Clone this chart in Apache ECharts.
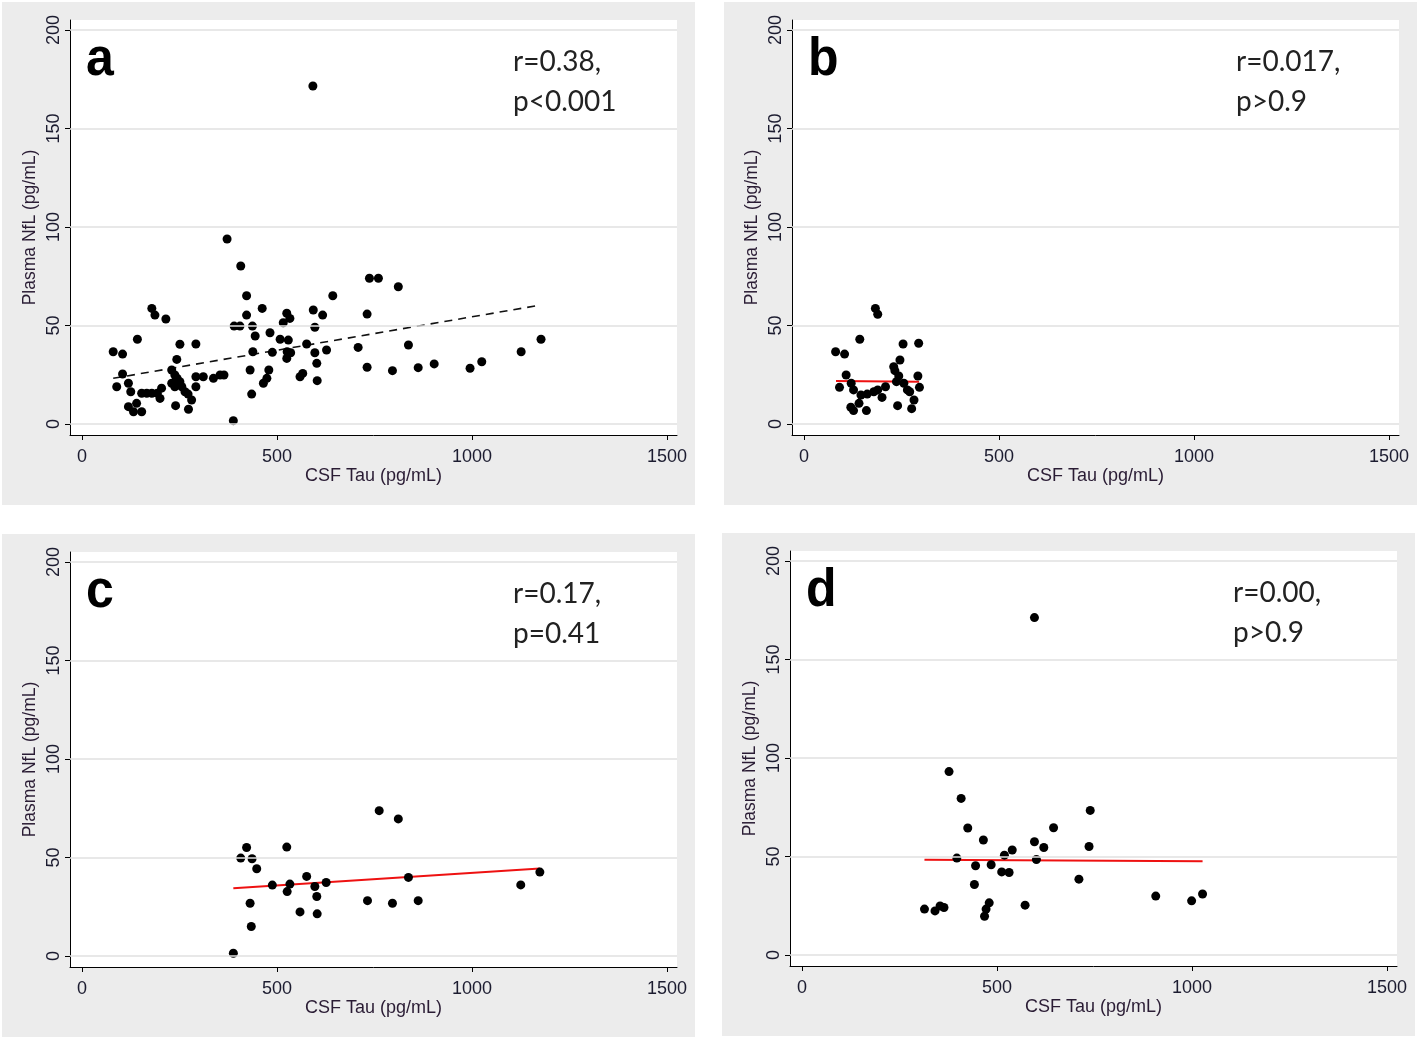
<!DOCTYPE html>
<html>
<head>
<meta charset="utf-8">
<script src="https://cdn.jsdelivr.net/npm/echarts@6/dist/echarts.min.js"></script>
<style>
html,body{margin:0;padding:0;background:#fff;}
#chart{width:1418px;height:1040px;}
</style>
</head>
<body>
<div id="chart"></div>
<script>
// ---- tick labels ----
var xTicks = [0, 500, 1000, 1500];
var yTicks = [0, 50, 100, 150, 200];
var xTitle = 'CSF Tau (pg/mL)';
var yTitle = 'Plasma NfL (pg/mL)';
var panelLetters = ['a', 'b', 'c', 'd'];
var statR = ['r=0.38,', 'r=0.017,', 'r=0.17,', 'r=0.00,'];
var statP = ['p<0.001', 'p>0.9', 'p=0.41', 'p>0.9'];

// ---- panel a : all subjects ----
var aX = [407,422,643,737,760,462,422,525,533,516,593,617,597,731,390,405,437,444,482,508,529,142,80,104,179,187,215,251,292,243,438,488,525,526,535,576,597,602,627,603,559,566,708,731,431,465,474,479,435,388,104,89,119,125,153,166,179,193,204,200,230,238,244,251,230,238,256,264,272,281,292,292,311,337,354,364,240,273,119,132,140,153,811,837,796,862,903,995,1025,1126,1177,592,372];
var aY = [80.2,65.1,65.1,74,74,58.7,55.3,56.2,53.6,51.4,57.9,55.3,49.1,55.8,49.7,49.7,49.7,44.7,46.3,43,42.6,43,36.7,35.5,58.7,55.3,53.3,40.5,40.6,32.8,36.7,36.4,33.3,36.7,36.2,40.6,36.2,30.8,37.6,22,24,25.7,38.9,28.8,27.4,20.7,23.2,27.4,15.2,1.7,25.4,18.9,20.7,16.4,15.6,15.6,15.6,15.6,18.2,13,27.4,24.9,23.2,21.5,20.7,18.9,18.9,16.4,15.2,12.2,24,18.9,24,23.2,24.9,24.9,9.3,7.5,8.8,6.2,10.5,6.2,69.7,40.1,27.1,28.6,30.5,28.3,31.6,36.7,43,171.6,93.9];
var aFitX = [80, 1176];
var aFitY = [23.2, 60.4];

// ---- panel b ----
var bX = [183,189,143,81,104,254,294,246,108,91,121,127,233,243,237,256,209,292,296,265,146,162,179,189,200,282,271,120,141,127,160,240,276,230];
var bY = [58.7,55.7,43,36.7,35.5,40.6,41,32.5,24.9,18.6,20.7,17.3,27.1,24.4,21.5,20.7,18.9,24.4,18.6,17.3,14.7,15.2,16.4,17.3,13.5,12.2,16.4,8.5,10.5,6.8,6.8,9.3,7.8,29.1];
var bFitX = [82, 295];
var bFitY = [21.8, 21.5];

// ---- panel c ----
var cX = [388,407,422,436,448,431,434,488,525,526,533,559,576,597,602,603,626,732,762,796,811,837,862,1125,1174];
var cY = [1.4,49.7,55.1,49.4,44.3,26.8,15,36,55.3,32.7,36.5,22.4,40.4,35.3,30.2,21.4,37.3,28.1,73.8,26.8,69.6,39.9,28.1,36.1,42.6];
var cFitX = [388, 1174];
var cFitY = [34.4, 44.4];

// ---- panel d ----
var dX = [596,377,408,425,465,397,445,485,442,519,539,512,531,596,620,601,645,739,736,710,572,480,472,468,314,341,354,364,907,999,1027];
var dY = [171.3,93.1,79.5,64.5,58.4,49.2,45.3,45.8,35.8,50.7,53.3,42.2,41.9,57.5,54.6,48.5,64.6,73.4,55.1,38.5,25.3,26.5,23.3,19.7,23.3,22.4,24.9,24.1,29.9,27.5,31];
var dFitX = [314, 1027];
var dFitY = [48.4, 47.6];

var panels = [
  {x: aX, y: aY, fx: aFitX, fy: aFitY, fit: 'dash'},
  {x: bX, y: bY, fx: bFitX, fy: bFitY, fit: 'red'},
  {x: cX, y: cY, fx: cFitX, fy: cFitY, fit: 'red'},
  {x: dX, y: dY, fx: dFitX, fy: dFitY, fit: 'red'}
];

function zip(xs, ys) { return xs.map(function (v, i) { return [v, ys[i]]; }); }

// layout (pixels)
var layout = [
  {ox: 0, oy: 0, tx: 513},
  {ox: 722, oy: 0, tx: 1236},
  {ox: 0, oy: 532, tx: 513},
  {ox: 720, oy: 531, tx: 1233}
];
var FONT = '"Liberation Sans", Arial, sans-serif';
var labelColor = '#1c1c30';
var titleColor = '#2a1c34';
function plain(v) { return String(v); }

var grids = [], xAxes = [], yAxes = [], series = [], graphics = [];
layout.forEach(function (L, i) {
  graphics.push({type: 'rect', z: -10, shape: {x: 2 + L.ox, y: 2 + L.oy, width: 693, height: 503}, style: {fill: '#ececec'}});
  grids.push({left: 70 + L.ox, top: 20 + L.oy, width: 607, height: 415, show: true, backgroundColor: '#ffffff', borderWidth: 0});
  xAxes.push({
    gridIndex: i, type: 'value', min: -30.8, max: 1525.6,
    axisLine: {show: true, onZero: false, lineStyle: {color: '#000', width: 1}},
    axisTick: {show: true, customValues: xTicks, length: 5, lineStyle: {color: '#000', width: 1}},
    axisLabel: {customValues: xTicks, formatter: plain, fontSize: 18, fontFamily: FONT, color: labelColor, margin: 13},
    splitLine: {show: false},
    name: xTitle, nameLocation: 'middle', nameGap: 20,
    nameTextStyle: {fontSize: 18, fontFamily: FONT, color: titleColor}
  });
  yAxes.push({
    gridIndex: i, type: 'value', min: -5.58, max: 205.1,
    axisLine: {show: true, onZero: false, lineStyle: {color: '#000', width: 1}},
    axisTick: {show: true, customValues: yTicks, length: 5, lineStyle: {color: '#000', width: 1}},
    axisLabel: {customValues: yTicks, formatter: plain, rotate: 90, fontSize: 18, fontFamily: FONT, color: labelColor, margin: 7},
    splitLine: {show: false},
    name: yTitle, nameLocation: 'middle', nameGap: 31,
    nameTextStyle: {fontSize: 17.5, fontFamily: FONT, color: titleColor}
  });
  var P = panels[i];
  series.push({
    type: 'line', xAxisIndex: i, yAxisIndex: i, z: 1, silent: true, animation: false,
    data: zip(P.fx, P.fy), symbol: 'none',
    lineStyle: P.fit === 'dash' ? {color: '#111', width: 1.6, type: [8, 6]} : {color: '#ee1111', width: 2},
    markLine: {
      silent: true, animation: false, symbol: ['none', 'none'], label: {show: false},
      lineStyle: {color: '#e0e0e0', width: 1.5, type: 'solid'},
      data: yTicks.map(function (v) { return {yAxis: v}; })
    }
  });
  series.push({
    type: 'scatter', xAxisIndex: i, yAxisIndex: i, z: 3, animation: false,
    data: zip(P.x, P.y), symbol: 'circle', symbolSize: 9,
    itemStyle: {color: '#000', opacity: 1}
  });
  // panel letter
  graphics.push({type: 'text', x: 86 + L.ox, y: 60 + L.oy, z: 10, scaleY: 1.08,
    style: {text: panelLetters[i], font: 'bold 50px ' + FONT, fill: '#000', verticalAlign: 'middle', align: 'left'}});
  graphics.push({type: 'text', x: L.tx, y: 62 + L.oy, z: 10,
    style: {text: statR[i], font: '28px Lato, "Open Sans", sans-serif', fill: '#222', verticalAlign: 'middle', align: 'left'}});
  graphics.push({type: 'text', x: L.tx, y: 102 + L.oy, z: 10,
    style: {text: statP[i], font: '28px Lato, "Open Sans", sans-serif', fill: '#222', verticalAlign: 'middle', align: 'left'}});
});

var chart = echarts.init(document.getElementById('chart'), null, {renderer: 'canvas'});
chart.setOption({
  backgroundColor: '#ffffff',
  animation: false,
  grid: grids,
  xAxis: xAxes,
  yAxis: yAxes,
  series: series,
  graphic: graphics
});
</script>
</body>
</html>
